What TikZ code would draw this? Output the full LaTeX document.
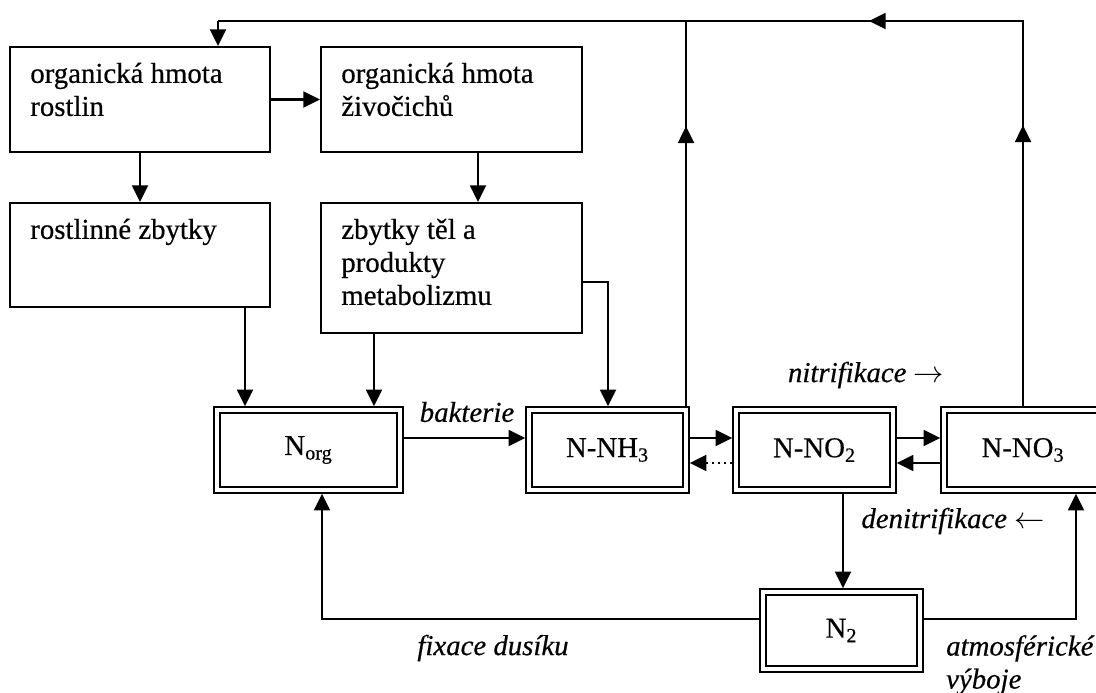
\documentclass[tikz,border=0pt]{standalone}
\usepackage{fontspec}
\setmainfont{Liberation Serif}[UprightFeatures={FakeBold=0.5}, ItalicFeatures={FakeBold=0.5}]
\usetikzlibrary{arrows.meta}

\begin{document}
\begin{tikzpicture}[x=0.02cm, y=-0.02cm,
    font=\fontsize{16.4}{18.8}\selectfont,
    box/.style={draw, line width=1.2pt, inner sep=0pt},
    boxtext/.style={anchor=north west, align=left, inner sep=0pt, xshift=0.42cm, yshift=-0.33cm},
    dbox/.style={draw, double, line width=1pt, double distance=2.2pt, outer sep=2.1pt,
        minimum width=3.14cm, minimum height=1.6cm, inner sep=0pt},
    arr/.style={-{Triangle[length=9.5pt,width=9pt]}, line width=1.4pt},
    lbl/.style={font=\fontsize{16.4}{18.8}\selectfont\itshape}]
    \useasboundingbox (0,0) rectangle (1096,693);
    \clip (0,0) rectangle (1096,693);

    % upper boxes
    \node[box, minimum width=5.2cm, minimum height=2.1cm, label={[boxtext]north west:organická hmota\\rostlin}] (plants) at (140,99.5) {};
    \node[box, minimum width=5.22cm, minimum height=2.1cm, label={[boxtext]north west:organická hmota\\živočichů}] (animals) at (451.5,99.5) {};
    \node[box, minimum width=5.2cm, minimum height=2.08cm, label={[boxtext]north west:rostlinné zbytky}] (plantrest) at (140,255) {};
    \node[box, minimum width=5.22cm, minimum height=2.6cm, label={[boxtext]north west:zbytky těl a\\produkty\\metabolizmu}] (animalrest) at (451.5,268) {};

    % nitrogen forms
    \node[dbox, minimum width=3.66cm] (norg) at (308.5,450) {N\textsubscript{org}};
    \node[dbox] (nh3) at (607.5,450) {N-NH\textsubscript{3}};
    \node[dbox] (no2) at (814.5,450) {N-NO\textsubscript{2}};
    \node[dbox, minimum width=3.16cm] (no3) at (1023,450) {N-NO\textsubscript{3}};
    \node[dbox, minimum height=1.54cm] (n2) at (841.5,630.5) {N\textsubscript{2}};

    % labels
    \node[lbl] (bact) at (467,412) {bakterie};
    \node[lbl] (nitri) at (866,375) {nitrifikace $\rightarrow$};
    \node[lbl] (denitri) at (953,521) {denitrifikace $\leftarrow$};
    \node[lbl] (fix) at (493,648) {fixace dusíku};
    \node[lbl, align=left, anchor=west] (atm) at (940,665) {atmosférické\\výboje};

    % return to plants
    \coordinate (corner) at (1023,21);
    \draw[line width=0.9pt] (no3.north) -- (corner) -- (corner -| 218,0);
    \draw[line width=0.9pt] (nh3.north -| 686,0) -- (corner -| 686,0);
    \draw[arr] (no3.north) -- ++(0,-281);
    \draw[arr] (nh3.north -| 686,0) -- ++(0,-280);
    \draw[arr] (corner) -- ++(-154,0);
    \draw[arr] (corner -| 218,0) -- (plants.north -| 218,0);

    \draw[arr] (plants) -- (animals);
    \draw[arr] (plants) -- (plantrest);
    \draw[arr] (animals.south -| 478,0) -- (animalrest.north -| 478,0);
    \draw[arr] (plantrest.south -| 245,0) -- (norg.north -| 245,0);
    \draw[arr] (animalrest.south -| 374,0) -- (norg.north -| 374,0);
    \draw[arr] (animalrest.east |- 0,282) -| (nh3.north -| 608,0);

    \draw[arr] (norg.east |- 0,438) -- (nh3.west |- 0,438);
    \draw[arr] (nh3.east |- 0,438) -- (no2.west |- 0,438);
    \draw[arr, dotted] (no2.west |- 0,463) -- (nh3.east |- 0,463);
    \draw[arr] (no2.east |- 0,438) -- (no3.west |- 0,438);
    \draw[arr] (no3.west |- 0,463) -- (no2.east |- 0,463);
    \draw[arr] (no2.south -| 843,0) -- (n2.north -| 843,0);
    \draw[arr] (n2.west |- 0,619) -| (norg.south -| 322,0);
    \draw[arr] (n2.east |- 0,619) -| (no3.south -| 1076,0);
\end{tikzpicture}
\end{document}
